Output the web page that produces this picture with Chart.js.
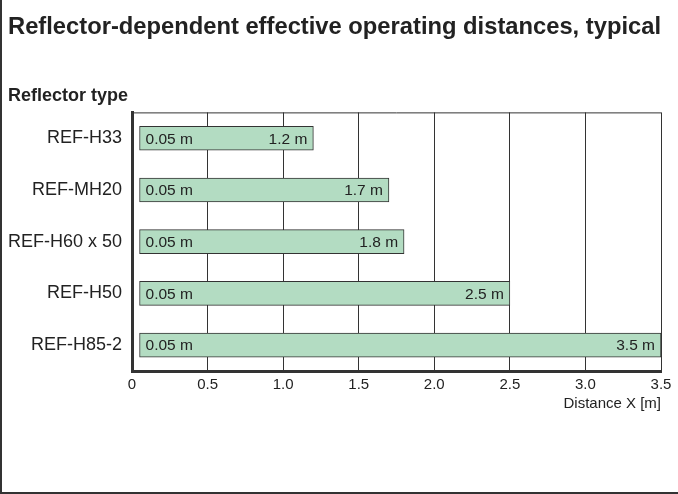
<!DOCTYPE html>
<html>
<head>
<meta charset="utf-8">
<script src="https://cdn.jsdelivr.net/npm/chart.js@4"></script>
<style>
  html, body { margin: 0; padding: 0; background: #fff; }
  #wrap { position: relative; width: 678px; height: 494px; }
  #frame { position: absolute; left: 0; top: 0; width: 676px; height: 492px;
           border-left: 2px solid #333; border-bottom: 2px solid #333; pointer-events: none; }
  canvas { display: block; }
</style>
</head>
<body>
<div id="wrap">
  <canvas id="c" width="678" height="494"></canvas>
  <div id="frame"></div>
</div>
<script>
// ---- data ----
const categories = ['REF-H33', 'REF-MH20', 'REF-H60 x 50', 'REF-H50', 'REF-H85-2'];
const minDistance = [0.05, 0.05, 0.05, 0.05, 0.05];
const maxDistance = [1.2, 1.7, 1.8, 2.5, 3.5];
const xTickValues = [0, 0.5, 1.0, 1.5, 2.0, 2.5, 3.0, 3.5];
const xTickLabels = ['0', '0.5', '1.0', '1.5', '2.0', '2.5', '3.0', '3.5'];
const titleText = 'Reflector-dependent effective operating distances, typical';
const yAxisLabel = 'Reflector type';
const xAxisLabel = 'Distance X [m]';

const FONT = '"Liberation Sans", Arial, Helvetica, sans-serif';
const INK = '#222';
const LINE = '#333';

const barRanges = categories.map((_, i) => [minDistance[i], maxDistance[i]]);

const fmt = v => (v === 0 ? '0' : v.toFixed(2).replace(/0$/, '')) + ' m';

const decorPlugin = {
  id: 'decor',
  beforeDatasetsDraw(chart) {
    const { ctx, chartArea } = chart;
    ctx.save();
    ctx.strokeStyle = LINE;
    ctx.lineWidth = 1;
    ctx.beginPath();
    ctx.moveTo(chartArea.left, chartArea.top + 0.5);
    ctx.lineTo(chartArea.right, chartArea.top + 0.5);
    ctx.stroke();
    ctx.restore();
  },
  afterDatasetsDraw(chart) {
    const { ctx } = chart;
    const meta = chart.getDatasetMeta(0);
    ctx.save();
    ctx.font = '15.5px ' + FONT;
    ctx.fillStyle = INK;
    ctx.textBaseline = 'middle';
    meta.data.forEach((bar, i) => {
      const p = bar.getProps(['x', 'y', 'base'], true);
      const left = Math.min(p.x, p.base), right = Math.max(p.x, p.base);
      ctx.textAlign = 'left';
      ctx.fillText(fmt(minDistance[i]), left + 6, p.y + 1);
      ctx.textAlign = 'right';
      ctx.fillText(fmt(maxDistance[i]), right - 6, p.y + 1);
    });
    ctx.restore();
  }
};

new Chart(document.getElementById('c'), {
  type: 'bar',
  data: {
    labels: categories,
    datasets: [{
      data: barRanges,
      backgroundColor: '#b3dcc2',
      borderColor: LINE,
      borderWidth: 1,
      borderSkipped: false,
      barThickness: 24
    }]
  },
  options: {
    responsive: false,
    devicePixelRatio: 1,
    animation: false,
    indexAxis: 'y',
    layout: { padding: { left: 8, right: 17, top: 0, bottom: 80 } },
    plugins: {
      legend: { display: false },
      tooltip: { enabled: false },
      title: {
        display: true, text: titleText, align: 'start', color: INK,
        font: { family: FONT, size: 24, weight: 'bold', lineHeight: 1.2 },
        padding: { top: 13, bottom: 0 }
      },
      subtitle: {
        display: true, text: yAxisLabel, align: 'start', color: INK,
        font: { family: FONT, size: 18, weight: 'bold', lineHeight: 1.2 },
        padding: { top: 43, bottom: 6 }
      }
    },
    scales: {
      x: {
        type: 'linear', min: 0, max: 3.5,
        afterBuildTicks(scale) { scale.ticks = xTickValues.map(v => ({ value: v })); },
        afterFit(scale) { scale.height = 43; },
        ticks: {
          color: INK, padding: 5, maxRotation: 0, autoSkip: false,
          font: { family: FONT, size: 15 },
          callback: (v) => xTickLabels[xTickValues.indexOf(v)]
        },
        grid: { color: LINE, lineWidth: 1, drawTicks: false },
        border: { display: true, color: LINE, width: 3 },
        title: {
          display: true, text: xAxisLabel, align: 'end', color: INK,
          font: { family: FONT, size: 15, lineHeight: 1.2 },
          padding: { top: 0, bottom: 1 }
        }
      },
      y: {
        type: 'category',
        afterFit(scale) { scale.width = 124; },
        ticks: { color: INK, padding: 10, font: { family: FONT, size: 18 } },
        grid: { display: false, drawTicks: false },
        border: { display: true, color: LINE, width: 3 }
      }
    }
  },
  plugins: [decorPlugin]
});
</script>
</body>
</html>
